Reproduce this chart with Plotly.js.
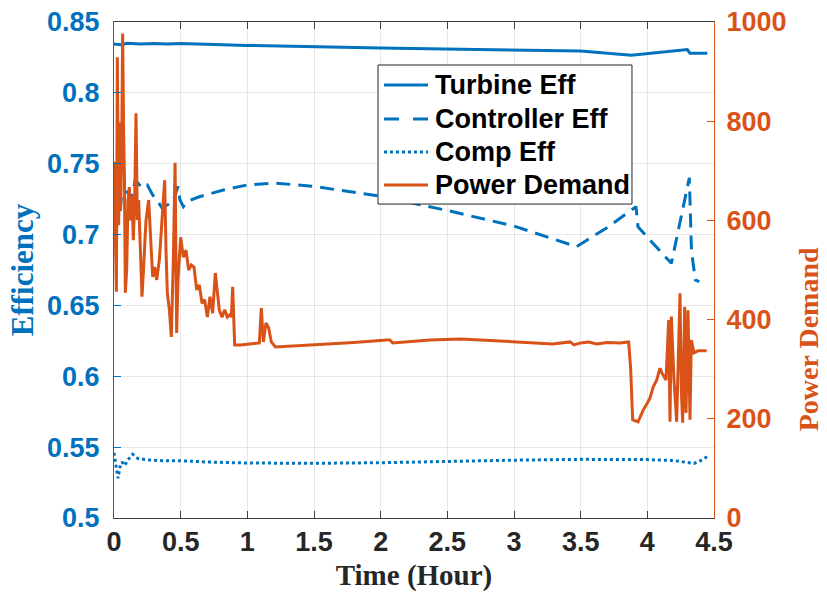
<!DOCTYPE html>
<html>
<head>
<meta charset="utf-8">
<script src="https://cdn.plot.ly/plotly-3.0.1.min.js"></script>
<style>
  html, body { margin: 0; padding: 0; background: #ffffff; }
  #chart { width: 827px; height: 594px; }
  svg text { font-variant-ligatures: none; }
</style>
</head>
<body>
<div id="chart"></div>
<script>
// Turbine efficiency over time (hours)
const turbineT = [0.000, 0.050, 0.100, 0.200, 0.300, 0.400, 0.500, 1.000, 2.000, 3.000, 3.500, 3.880, 4.300, 4.320, 4.450];
const turbineEff = [0.8345, 0.8340, 0.8350, 0.8345, 0.8348, 0.8344, 0.8348, 0.8335, 0.8316, 0.8305, 0.8295, 0.8265, 0.8305, 0.8280, 0.8280];

// Controller efficiency
const controllerT = [0.000, 0.010, 0.020, 0.040, 0.060, 0.100, 0.130, 0.160, 0.210, 0.250, 0.290, 0.330, 0.360, 0.440, 0.480, 0.495, 0.520, 0.545, 0.640, 0.820, 1.000, 1.200, 1.500, 2.000, 2.500, 3.000, 3.470, 3.700, 3.915, 3.930, 4.180, 4.315, 4.320, 4.330, 4.340, 4.350, 4.360, 4.390];
const controllerEff = [0.725, 0.740, 0.721, 0.7126, 0.730, 0.730, 0.7258, 0.7385, 0.733, 0.735, 0.728, 0.7232, 0.7187, 0.723, 0.734, 0.7244, 0.7197, 0.7232, 0.7267, 0.7314, 0.735, 0.7364, 0.734, 0.727, 0.717, 0.706, 0.6915, 0.705, 0.7197, 0.7055, 0.6797, 0.740, 0.7244, 0.6915, 0.682, 0.673, 0.668, 0.6667];

// Compressor efficiency
const compT = [0.000, 0.010, 0.030, 0.045, 0.060, 0.080, 0.100, 0.140, 0.180, 0.250, 0.350, 0.500, 0.700, 1.000, 1.500, 2.000, 2.500, 3.000, 3.500, 4.000, 4.200, 4.300, 4.350, 4.400, 4.450];
const compEff = [0.546, 0.540, 0.528, 0.536, 0.5395, 0.537, 0.5405, 0.545, 0.542, 0.541, 0.5405, 0.5404, 0.5395, 0.5388, 0.5386, 0.539, 0.540, 0.5408, 0.5414, 0.5412, 0.5405, 0.5395, 0.5385, 0.5405, 0.5433];

// Power demand
const powerT = [0.000, 0.010, 0.018, 0.025, 0.030, 0.035, 0.042, 0.050, 0.058, 0.065, 0.072, 0.078, 0.085, 0.095, 0.105, 0.115, 0.125, 0.135, 0.145, 0.155, 0.165, 0.175, 0.185, 0.195, 0.210, 0.225, 0.240, 0.260, 0.275, 0.290, 0.305, 0.320, 0.340, 0.360, 0.380, 0.390, 0.400, 0.415, 0.430, 0.445, 0.458, 0.470, 0.480, 0.500, 0.520, 0.540, 0.560, 0.580, 0.600, 0.620, 0.640, 0.660, 0.680, 0.700, 0.720, 0.740, 0.760, 0.790, 0.810, 0.830, 0.850, 0.870, 0.880, 0.890, 0.905, 0.950, 1.000, 1.050, 1.090, 1.105, 1.120, 1.140, 1.160, 1.180, 1.210, 1.500, 1.800, 2.045, 2.070, 2.090, 2.370, 2.600, 3.000, 3.290, 3.420, 3.450, 3.500, 3.560, 3.620, 3.700, 3.795, 3.860, 3.875, 3.890, 3.930, 3.970, 4.000, 4.020, 4.045, 4.070, 4.095, 4.110, 4.140, 4.160, 4.170, 4.180, 4.200, 4.220, 4.245, 4.255, 4.265, 4.280, 4.290, 4.305, 4.320, 4.330, 4.350, 4.380, 4.445];
const powerDemand = [718, 560, 456, 929, 700, 590, 798, 620, 760, 977, 780, 690, 454, 500, 640, 667, 600, 650, 560, 640, 816, 601, 641, 560, 446, 520, 600, 641, 560, 486, 506, 480, 520, 600, 681, 540, 454, 420, 365, 520, 716, 373, 480, 566, 526, 540, 500, 510, 506, 460, 470, 433, 440, 405, 446, 413, 494, 419, 405, 420, 405, 410, 405, 466, 349, 349, 351, 352, 353, 423, 355, 393, 383, 355, 345, 349, 354, 359, 359, 353, 359, 361, 355, 351, 355, 349, 353, 355, 351, 354, 353, 355, 300, 198, 194, 218, 232, 242, 265, 278, 302, 292, 278, 399, 194, 406, 278, 194, 453, 258, 192, 426, 212, 419, 198, 359, 333, 337, 337];

// Legend entries: label, line dash
const legendLabels = ['Turbine Eff', 'Controller Eff', 'Comp Eff', 'Power Demand'];

const blue = '#0072BD';
const orange = '#D95319';
const legendColors = [blue, blue, blue, orange];
const legendDash = ['solid', '15px,14px', '3px,3px', 'solid'];

const tickFont = (c) => ({ family: 'Liberation Sans, Arial, sans-serif', size: 27, color: c, weight: 'bold' });
const titleFont = (c, s) => ({ family: 'Liberation Serif, Times New Roman, serif', size: s, color: c, weight: 'bold' });

const traces = [
  { x: turbineT, y: turbineEff, name: legendLabels[0], type: 'scatter', mode: 'lines',
    line: { color: blue, width: 3 }, yaxis: 'y' },
  { x: controllerT, y: controllerEff, name: legendLabels[1], type: 'scatter', mode: 'lines',
    line: { color: blue, width: 3, dash: '14px,8px' }, yaxis: 'y' },
  { x: compT, y: compEff, name: legendLabels[2], type: 'scatter', mode: 'lines',
    line: { color: blue, width: 3, dash: '3px,3px' }, yaxis: 'y' },
  { x: powerT, y: powerDemand, name: legendLabels[3], type: 'scatter', mode: 'lines',
    line: { color: orange, width: 3 }, yaxis: 'y2' }
];

// Boxed legend placed inside the plot area (paper coordinates)
const box = { x0: 0.44, x1: 0.8633, y0: 0.633, y1: 0.9133 };
const rowY = [0.873, 0.8044, 0.738, 0.6714];
const shapes = [{
  type: 'rect', xref: 'paper', yref: 'paper', layer: 'above',
  x0: box.x0, x1: box.x1, y0: box.y0, y1: box.y1,
  fillcolor: '#ffffff', line: { color: '#262626', width: 1 }
}];
const annotations = [];
legendLabels.forEach((lab, i) => {
  shapes.push({
    type: 'line', xref: 'paper', yref: 'paper', layer: 'above',
    x0: 0.45, x1: 0.5233, y0: rowY[i], y1: rowY[i],
    line: { color: legendColors[i], width: 3, dash: legendDash[i] }
  });
  annotations.push({
    xref: 'paper', yref: 'paper', x: 0.5317, y: rowY[i],
    xanchor: 'left', yanchor: 'middle', showarrow: false, text: lab,
    font: { family: 'Liberation Sans, Arial, sans-serif', size: 27, color: '#000000', weight: 'bold' }
  });
});
// Right-hand axis title
annotations.push({
  xref: 'paper', yref: 'paper', x: 1.158, y: 0.36,
  xanchor: 'center', yanchor: 'middle', showarrow: false, textangle: -90,
  text: 'Power Demand', font: titleFont(orange, 28)
});

const layout = {
  width: 827, height: 594,
  margin: { l: 114, r: 113, t: 22, b: 76, pad: 0 },
  paper_bgcolor: '#ffffff', plot_bgcolor: '#ffffff',
  showlegend: false,
  shapes: shapes,
  annotations: annotations,
  xaxis: {
    range: [0, 4.5], tickmode: 'linear', tick0: 0, dtick: 0.5,
    showgrid: true, gridcolor: 'rgba(0,0,0,0.09)', gridwidth: 1, zeroline: false,
    showline: true, linecolor: '#404040', linewidth: 1, mirror: 'ticks',
    ticks: 'inside', ticklen: 7, tickcolor: '#404040',
    tickfont: tickFont('#262626'), ticklabelstandoff: 0,
    title: { text: 'Time (Hour)', font: titleFont('#262626', 29), standoff: 8 }
  },
  yaxis: {
    range: [0.5, 0.85], tickmode: 'linear', tick0: 0.5, dtick: 0.05,
    showgrid: true, gridcolor: 'rgba(0,0,0,0.09)', gridwidth: 1, zeroline: false,
    showline: true, linecolor: blue, linewidth: 1,
    ticks: 'inside', ticklen: 7, tickcolor: blue,
    tickfont: tickFont(blue), ticklabelstandoff: 8,
    title: { text: 'Efficiency', font: titleFont(blue, 31), standoff: 4 }
  },
  yaxis2: {
    range: [0, 1000], tickmode: 'linear', tick0: 0, dtick: 200,
    overlaying: 'y', side: 'right', anchor: 'x',
    showgrid: false, zeroline: false,
    showline: true, linecolor: orange, linewidth: 1,
    ticks: 'inside', ticklen: 7, tickcolor: orange,
    tickfont: tickFont(orange), ticklabelstandoff: 6
  }
};

Plotly.newPlot('chart', traces, layout, { displayModeBar: false, staticPlot: true });
</script>
</body>
</html>
